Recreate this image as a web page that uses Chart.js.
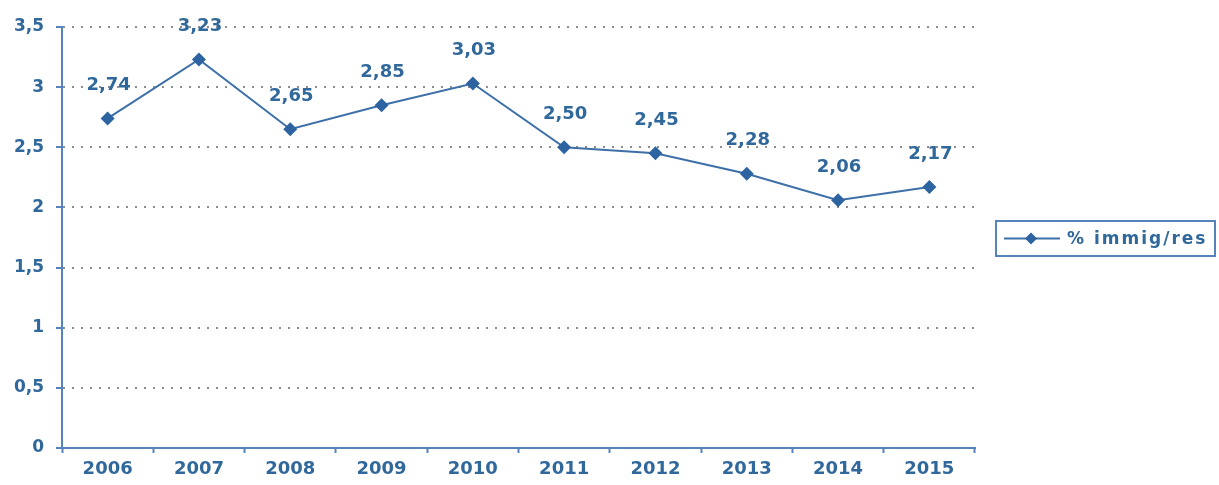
<!DOCTYPE html>
<html>
<head>
<meta charset="utf-8">
<script src="https://cdn.jsdelivr.net/npm/chart.js@4"></script>
<style>
  html, body { margin: 0; padding: 0; background: #ffffff; }
  #wrap { width: 1219px; height: 485px; }
</style>
</head>
<body>
<div id="wrap"><canvas id="c" width="1219" height="485"></canvas></div>
<script>
const years = ['2006', '2007', '2008', '2009', '2010', '2011', '2012', '2013', '2014', '2015'];
const immigRes = [2.74, 3.23, 2.65, 2.85, 3.03, 2.50, 2.45, 2.28, 2.06, 2.17];
const seriesLabel = '% immig/res';

const TEXT = '#30689b';
const AXIS = '#5584bd';
const LINE = '#3d6fa8';
const MARK = '#2c63a0';
const FONT = '"DejaVu Sans", Verdana, sans-serif';

const fmt = v => v.toFixed(2).replace('.', ',');

// value labels above each point
const valueLabels = {
  id: 'valueLabels',
  afterDatasetsDraw(chart) {
    const ctx = chart.ctx;
    const meta = chart.getDatasetMeta(0);
    const data = chart.data.datasets[0].data;
    ctx.save();
    ctx.font = 'bold 18px ' + FONT;
    ctx.fillStyle = TEXT;
    ctx.textAlign = 'center';
    ctx.textBaseline = 'middle';
    meta.data.forEach((pt, i) => {
      ctx.fillText(fmt(data[i]), pt.x + 1, pt.y - 33);
    });
    ctx.restore();
  }
};

// boxed legend at the right
const boxLegend = {
  id: 'boxLegend',
  afterDraw(chart) {
    const ctx = chart.ctx;
    const ds = chart.data.datasets[0];
    const x = 996, y = 221, w = 219, h = 35;
    ctx.save();
    ctx.strokeStyle = AXIS;
    ctx.lineWidth = 2;
    ctx.strokeRect(x, y, w, h);
    const cy = y + h / 2;
    ctx.strokeStyle = LINE;
    ctx.lineWidth = 2;
    ctx.beginPath();
    ctx.moveTo(x + 8, cy);
    ctx.lineTo(x + 64, cy);
    ctx.stroke();
    ctx.fillStyle = MARK;
    ctx.beginPath();
    const r = 6;
    const mx = x + 35;
    ctx.moveTo(mx, cy - r);
    ctx.lineTo(mx + r, cy);
    ctx.lineTo(mx, cy + r);
    ctx.lineTo(mx - r, cy);
    ctx.closePath();
    ctx.fill();
    ctx.font = 'bold 17px ' + FONT;
    ctx.letterSpacing = '2px';
    ctx.fillStyle = TEXT;
    ctx.textAlign = 'left';
    ctx.textBaseline = 'middle';
    ctx.fillText(ds.label, x + 71, cy + 1);
    ctx.restore();
  }
};

new Chart(document.getElementById('c'), {
  type: 'line',
  data: {
    labels: years,
    datasets: [{
      label: seriesLabel,
      data: immigRes,
      borderColor: LINE,
      borderWidth: 2,
      backgroundColor: MARK,
      pointStyle: 'rectRot',
      pointRadius: 7,
      pointBorderWidth: 0,
      pointBackgroundColor: MARK,
      tension: 0
    }]
  },
  options: {
    responsive: false,
    animation: false,
    layout: { padding: { left: 0, right: 244, top: 27, bottom: 0 } },
    plugins: {
      legend: { display: false },
      tooltip: { enabled: false }
    },
    scales: {
      x: {
        offset: true,
        afterFit(scale) { scale.height = 37; },
        grid: {
          offset: true,
          drawOnChartArea: false,
          drawTicks: true,
          tickLength: 5,
          tickColor: AXIS,
          tickWidth: 2
        },
        border: { color: AXIS, width: 2 },
        ticks: {
          color: TEXT,
          font: { family: FONT, size: 18, weight: 'bold' },
          padding: 6
        }
      },
      y: {
        min: 0,
        max: 3.5,
        afterFit(scale) { scale.width = 62; },
        ticks: {
          stepSize: 0.5,
          color: TEXT,
          font: { family: FONT, size: 17, weight: 'bold' },
          padding: 12,
          callback: v => String(v).replace('.', ',')
        },
        grid: {
          color: '#8c8c8c',
          lineWidth: 2,
          tickLength: 6,
          tickColor: AXIS,
          tickWidth: 2,
          tickBorderDash: []
        },
        border: { color: AXIS, width: 2, dash: [2, 7] }
      }
    }
  },
  plugins: [valueLabels, boxLegend]
});
</script>
</body>
</html>
